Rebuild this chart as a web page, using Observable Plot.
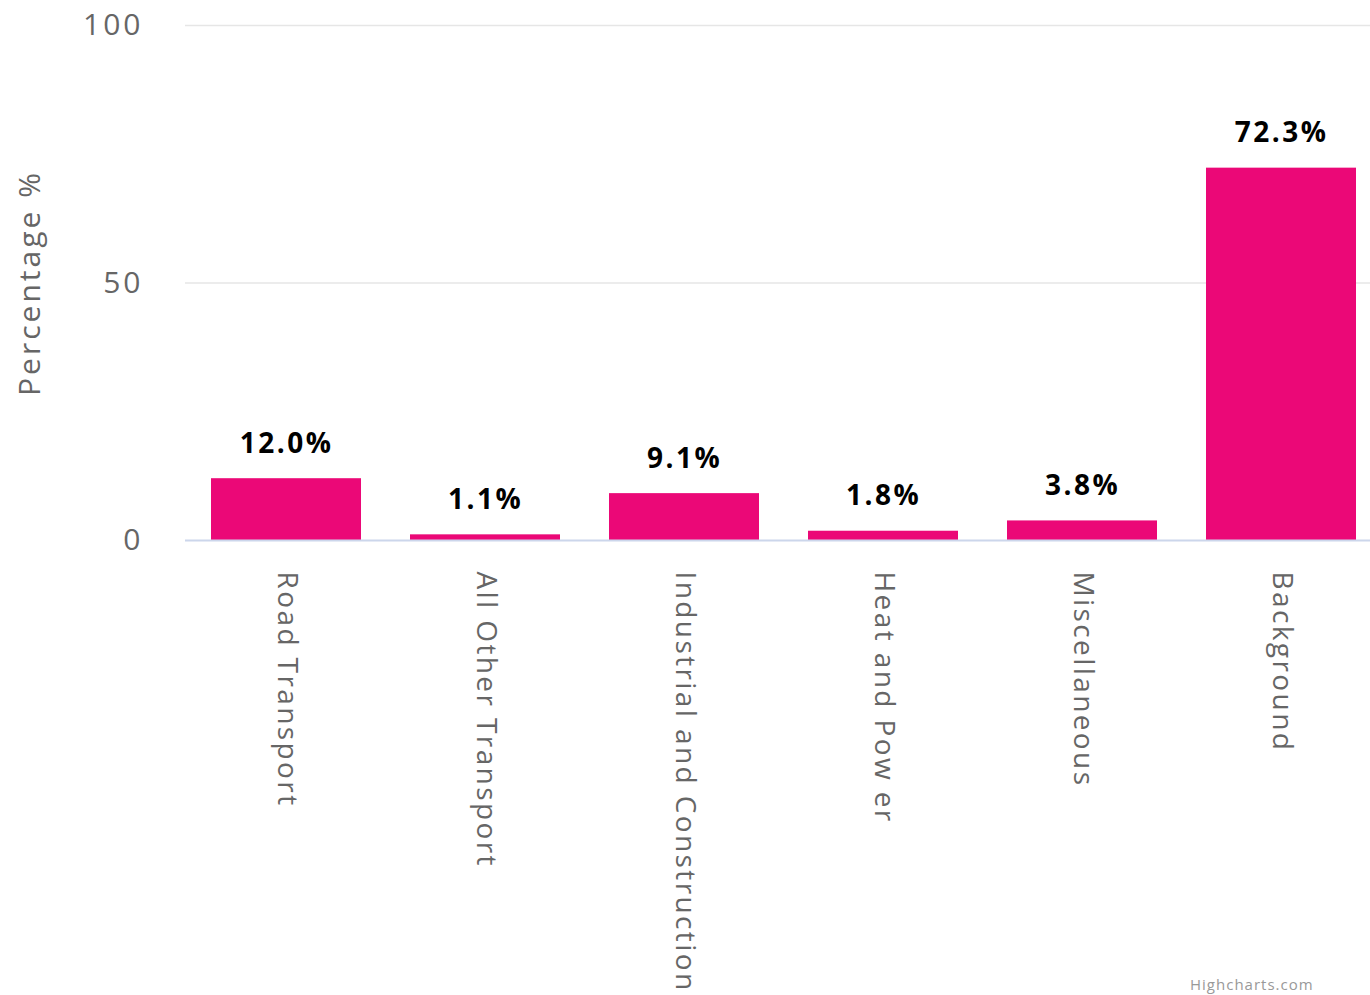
<!DOCTYPE html>
<html>
<head>
<meta charset="utf-8">
<script src="https://cdn.jsdelivr.net/npm/d3@7"></script>
<script src="https://cdn.jsdelivr.net/npm/@observablehq/plot@0.6"></script>
<style>
  html, body { margin: 0; padding: 0; background: #fff; overflow: hidden; }
  #wrap { position: relative; width: 1370px; height: 995px; overflow: hidden; }
  #chart svg { max-width: none !important; }
  #chart g[aria-label="x-axis tick label"] text { letter-spacing: 2.4px; }
  #chart g[aria-label="y-axis tick label"] text { letter-spacing: 3px; }
  #chart g[aria-label="y-axis label"] text { letter-spacing: 3px; }
  #chart g[aria-label="text"] text { letter-spacing: 2.5px; }
  #credit { position: absolute; left: 1190px; top: 974px; font: 15px "Open Sans", sans-serif; color: #999; white-space: nowrap; letter-spacing: 1px; }
</style>
</head>
<body>
<div id="wrap"><div id="chart"></div><div id="credit">Highcharts.com</div></div>
<script>
const categories = ["Road Transport", "All Other Transport", "Industrial and Construction", "Heat and Pow er", "Miscellaneous", "Background"];
const values = [12.0, 1.1, 9.1, 1.8, 3.8, 72.3];
const yTicks = [0, 50, 100];

const data = categories.map((c, i) => ({category: c, value: values[i]}));

const chart = Plot.plot({
  width: 1381,
  height: 995,
  marginLeft: 185,
  marginRight: 0,
  marginTop: 25,
  marginBottom: 455,
  style: {fontFamily: "'Open Sans', sans-serif", fontSize: "28px", color: "#666", background: "#fff", maxWidth: "none"},
  x: {domain: categories, paddingInner: 0.247, paddingOuter: 0.1235, label: null},
  y: {domain: [0, 100], label: null},
  marks: [
    Plot.gridY([50, 100], {stroke: "#e6e6e6", strokeOpacity: 1, strokeWidth: 1.5}),
    Plot.axisY(yTicks, {tickSize: 0, tickPadding: 42, fontSize: 30, fill: "#666", label: "Percentage %", labelAnchor: "center", labelArrow: "none", labelOffset: 167}),
    Plot.barY(data, {x: "category", y: "value", fill: "#eb0877"}),
    Plot.ruleY([0], {stroke: "#ccd6eb", strokeWidth: 2}),
    Plot.axisX({tickSize: 0, tickPadding: 31, tickRotate: 90, fontSize: 28, fill: "#666", label: null}),
    Plot.text(data, {x: "category", y: "value", text: d => d.value.toFixed(1) + "%", dy: -26, lineAnchor: "bottom", fontWeight: "bold", fontSize: 28, fill: "#000"})
  ]
});
document.getElementById("chart").appendChild(chart);
</script>
</body>
</html>
